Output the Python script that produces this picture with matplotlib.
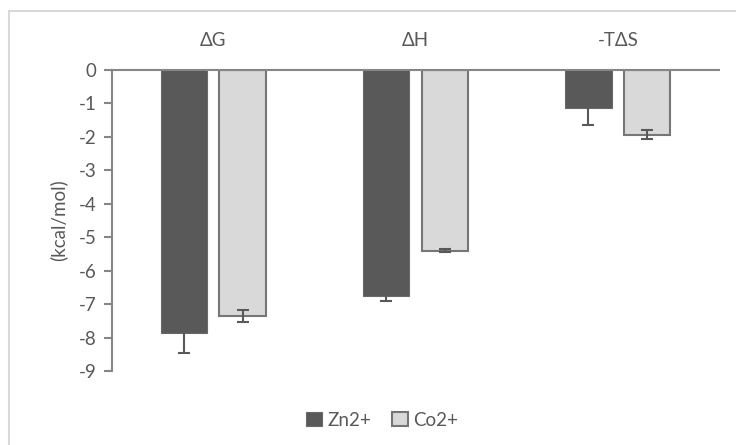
import matplotlib
matplotlib.use("Agg")
import matplotlib.pyplot as plt
import numpy as np
from matplotlib.patches import Rectangle

categories = ["ΔG", "ΔH", "-TΔS"]
series = ["Zn2+", "Co2+"]
zn_values = [-7.87, -6.75, -1.13]
zn_errors = [0.60, 0.15, 0.50]
co_values = [-7.35, -5.40, -1.93]
co_errors = [0.18, 0.04, 0.13]
yticks = [0, -1, -2, -3, -4, -5, -6, -7, -8, -9]

plt.rcParams['font.family'] = ['Lato', 'DejaVu Sans']

fig = plt.figure(figsize=(7.36, 4.45), dpi=100)
fig.patches.append(Rectangle((9/736, -0.5), 1.5, 1.5 - 11/445, transform=fig.transFigure,
                             fill=False, edgecolor='#d9d9d9', linewidth=1.5, zorder=0))
ax = fig.add_axes([112/736, 1 - 371/445, 607/736, 301/445])

x = np.arange(len(categories))
w = 0.228
off = 0.145
axis_col = '#868686'
fs = 13.5
ax.bar(x - off, zn_values, w, color='#595959', edgecolor='#6a6a6a', linewidth=0.8,
       yerr=zn_errors, error_kw=dict(ecolor='#595959', elinewidth=1.5, capsize=4, capthick=1.5),
       label=series[0], zorder=2)
ax.bar(x + off, co_values, w, color='#d9d9d9', edgecolor='#767676', linewidth=1.5,
       yerr=co_errors, error_kw=dict(ecolor='#595959', elinewidth=1.5, capsize=4, capthick=1.5),
       label=series[1], zorder=2)

ax.set_xlim(-0.5, 2.5)
ax.set_ylim(-9, 0)
ax.set_yticks(yticks)
ax.set_yticklabels([str(t) for t in yticks], fontsize=fs, color='#595959')
ax.tick_params(axis='y', direction='out', length=6, width=1.5, color=axis_col, pad=5)

ax.xaxis.tick_top()
ax.set_xticks(x)
ax.set_xticklabels(categories, fontsize=fs, color='#595959')
ax.tick_params(axis='x', length=0, pad=15)

for s in ['right', 'bottom']:
    ax.spines[s].set_visible(False)
ax.spines['left'].set_color(axis_col)
ax.spines['left'].set_linewidth(1.5)
ax.spines['top'].set_color(axis_col)
ax.spines['top'].set_linewidth(1.5)
ax.spines['top'].set_zorder(3)

ax.set_ylabel("(kcal/mol)", fontsize=fs, color='#595959', labelpad=8)

leg = fig.legend(loc='center', bbox_to_anchor=(382/736, 1 - 420/445), ncol=2, frameon=False,
                 fontsize=fs, handlelength=0.85, handleheight=0.85, handletextpad=0.3,
                 columnspacing=1.1)
for t in leg.get_texts():
    t.set_color('#595959')

fig.savefig("out.png", dpi=100)
